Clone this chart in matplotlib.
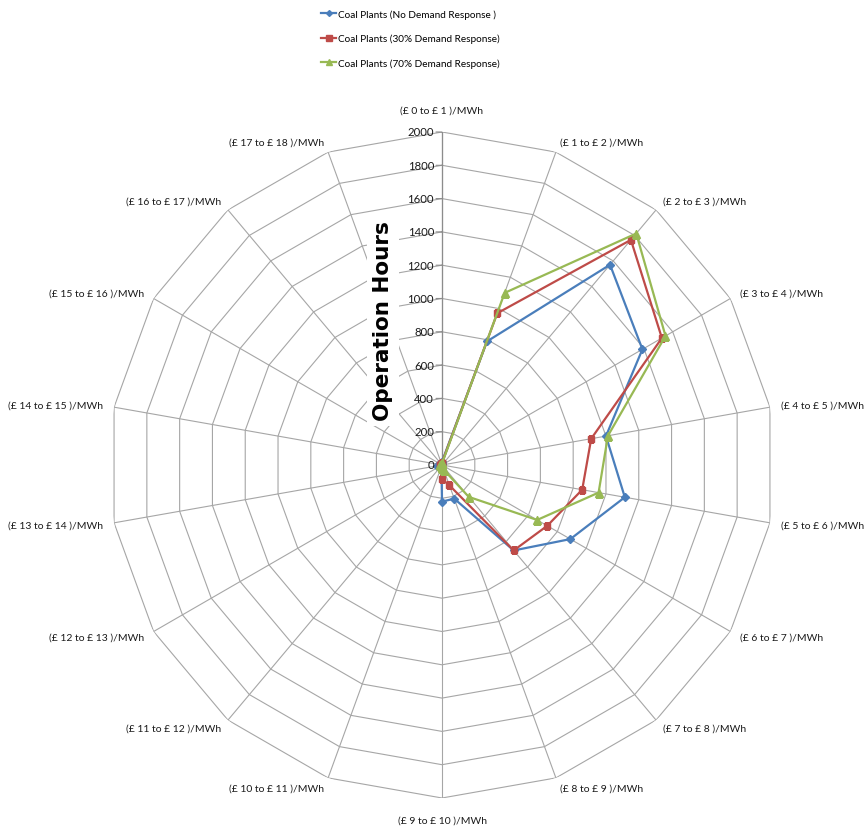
import numpy as np
import matplotlib
matplotlib.use("Agg")
import matplotlib.pyplot as plt
from matplotlib import transforms
from matplotlib.lines import Line2D

plt.rcParams['font.family'] = ['Lato', 'DejaVu Sans']

# Price bands (£/MWh) around the radar
categories = [f"(£ {i} to £ {i + 1} )/MWh" for i in range(18)]

# Operation hours per price band
no_dr = [20, 790, 1570, 1390, 1000, 1115, 890, 670, 215, 220, 10, 5, 5, 30, 20, 5, 5, 5]
dr_30 = [15, 970, 1765, 1525, 910, 855, 730, 670, 130, 85, 5, 5, 5, 10, 10, 5, 5, 5]
dr_70 = [10, 1100, 1815, 1550, 1012, 955, 660, 250, 30, 20, 5, 5, 5, 10, 10, 5, 5, 5]

r_ticks = [0, 200, 400, 600, 800, 1000, 1200, 1400, 1600, 1800, 2000]
r_max = 2000

series = [
    ("Coal Plants (No Demand Response )", no_dr, "#4A7EBB", "D", 4),
    ("Coal Plants (30% Demand Response)", dr_30, "#BE4B48", "s", 5),
    ("Coal Plants (70% Demand Response)", dr_70, "#98B954", "^", 5.5),
]

W, H = 865, 828
fig = plt.figure(figsize=(W / 100, H / 100), dpi=100)

cx, cy, rad = 442, 466, 333
ax = fig.add_axes([(cx - rad) / W, (H - cy - rad) / H, 2 * rad / W, 2 * rad / H],
                  projection='polar')
ax.set_theta_zero_location('N')
ax.set_theta_direction(-1)
ax.set_ylim(0, r_max)
ax.grid(False)
ax.spines['polar'].set_visible(False)
ax.set_xticks([])
ax.set_yticks([])
ax.patch.set_alpha(0)

n = len(categories)
angles = np.arange(n) * 2 * np.pi / n
closed = np.append(angles, angles[0])

grid_col = "#A6A6A6"
# polygonal rings
for r in r_ticks[1:]:
    ax.plot(closed, [r] * (n + 1), color=grid_col, lw=0.8, zorder=1)
# spokes
for a in angles:
    ax.plot([a, a], [0, r_max], color=grid_col, lw=0.8, zorder=1)
# the value axis on the first spoke is a bit darker
ax.plot([0, 0], [0, r_max], color="#8C8C8C", lw=0.9, zorder=1.5)

# value-axis labels and tick marks
for r in r_ticks:
    t = transforms.offset_copy(ax.transData, fig=fig, x=-8, y=0, units='dots')
    ax.text(0, r, f"{r}", transform=t, ha='right', va='center',
            fontsize=8.2, color="#1a1a1a", zorder=5)
    ax.annotate("", xy=(0, r), xytext=(-6, 0), textcoords='offset pixels',
                arrowprops=dict(arrowstyle='-', color="#8C8C8C", lw=0.8,
                                shrinkA=0, shrinkB=0))

# category labels outside the outer ring
for i, (a, lab) in enumerate(zip(angles, categories)):
    s, c = np.sin(a), np.cos(a)
    d = 22 if i in (0, 9) else 11
    if s > 0.1:
        ha = 'left'
    elif s < -0.1:
        ha = 'right'
    else:
        ha = 'center'
    t = transforms.offset_copy(ax.transData, fig=fig, x=d * s, y=d * c, units='dots')
    ax.text(a, r_max, lab, transform=t, ha=ha, va='center', fontsize=7.5,
            color="#1a1a1a")

# data series
for name, vals, col, mk, ms in series:
    v = np.append(vals, vals[0])
    ax.plot(closed, v, color=col, lw=1.6, marker=mk, markersize=ms,
            markerfacecolor=col, markeredgecolor=col, zorder=4)

# axis title
fig.text(383 / W, 1 - 321 / H, "Operation Hours", rotation=90, ha='center',
         va='center', fontsize=15.5, fontweight='heavy', family='DejaVu Sans',
         color='black',
         bbox=dict(facecolor='white', edgecolor='none', pad=4), zorder=6)

# legend
handles = [Line2D([0], [0], color=col, lw=1.6, marker=mk, markersize=ms - 1)
           for name, vals, col, mk, ms in series]
leg = fig.legend(handles, [s[0] for s in series], loc='upper left',
                 bbox_to_anchor=(312 / W, 1 - 1 / H), frameon=False,
                 fontsize=7.2, handlelength=1.5, handletextpad=0.2,
                 labelspacing=1.5)

fig.savefig("out.png", dpi=100)
